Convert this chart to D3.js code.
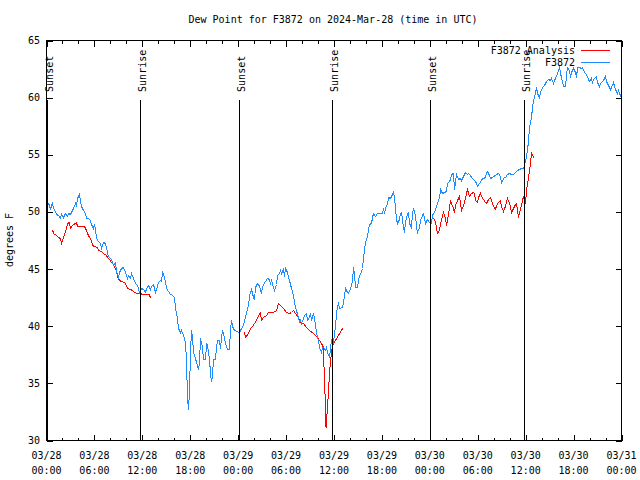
<!DOCTYPE html>
<html><head><meta charset="utf-8">
<script src="https://cdn.jsdelivr.net/npm/d3@7"></script>
<style>
body{margin:0;background:#fff}
svg text{font-family:"DejaVu Sans Mono","Liberation Mono",monospace;font-size:10px;fill:#000}
</style></head>
<body><svg id="chart" width="640" height="480"></svg>
<script>
const titleText = "Dew Point for F3872 on 2024-Mar-28 (time in UTC)";
const yLabel = "degrees F";
const seriesNames = ["F3872 Analysis", "F3872"];
const seriesColors = ["#ff0000", "#1e8cff"];
const yTicks = [30, 35, 40, 45, 50, 55, 60, 65];
const xLabelHours = [0, 6, 12, 18, 24, 30, 36, 42, 48, 54, 60, 66, 72];
const sunHours = [0.07, 11.77, 24.05, 35.81, 48.08, 59.73];
const sunLabels = ["Sunset", "Sunrise", "Sunset", "Sunrise", "Sunset", "Sunrise"];

// [hours since 2024-03-28 00:00 UTC, dew point °F]
const stationSeries = [
[0.1,50.9],[0.38,50.56],[0.5,50.2],[0.63,50.56],[0.75,50.74],[0.88,50.3],[1.13,50.04],[1.25,49.78],[1.5,49.69],[1.75,49.43],
[1.88,49.78],[2.13,49.5],[2.38,49.86],[2.63,49.6],[2.75,49.86],[3.0,49.78],[3.13,49.95],[3.38,50.3],[3.63,50.74],[3.76,50.56],
[3.88,51.18],[4.13,51.53],[4.26,51.0],[4.38,50.48],[4.63,50.13],[4.88,49.86],[5.01,49.43],[5.26,49.43],[5.51,49.25],[5.63,48.9],
[5.89,48.55],[6.01,48.9],[6.14,48.46],[6.26,47.68],[6.51,47.41],[6.76,47.24],[6.89,46.8],[7.14,47.33],[7.39,47.24],[7.64,46.45],
[7.76,46.1],[8.01,45.93],[8.26,45.66],[8.39,45.31],[8.64,45.58],[8.77,44.7],[9.02,44.26],[9.14,44.7],[9.39,45.05],[9.64,45.14],
[9.89,44.7],[10.14,44.18],[10.27,44.44],[10.52,44.18],[10.64,44.61],[10.89,44.18],[11.14,43.74],[11.4,43.56],[11.65,42.95],[11.9,43.3],
[12.15,43.21],[12.4,42.95],[12.52,43.3],[12.77,43.56],[13.02,43.21],[13.15,43.48],[13.4,43.65],[13.65,42.95],[13.77,43.21],[14.02,43.83],
[14.27,44.0],[14.4,43.91],[14.53,44.7],[14.65,44.53],[14.9,43.91],[15.03,43.3],[15.28,43.04],[15.53,42.78],[15.65,42.78],[16.03,42.51],
[16.15,41.55],[16.4,40.68],[16.53,39.8],[16.78,39.45],[16.9,39.63],[17.16,39.19],[17.41,38.58],[17.53,36.83],[17.66,33.68],[17.78,32.63],
[17.91,34.38],[18.03,37.7],[18.16,39.63],[18.28,39.01],[18.41,37.7],[18.66,37.18],[18.78,36.83],[19.03,36.21],[19.16,36.83],[19.28,38.93],
[19.53,38.14],[19.66,37.09],[19.91,37.09],[20.04,38.49],[20.16,38.31],[20.41,37.09],[20.54,35.86],[20.66,35.08],[20.79,35.7],[20.91,37.09],
[21.16,37.09],[21.29,38.14],[21.41,38.75],[21.66,38.75],[21.79,38.05],[21.91,39.01],[22.04,39.63],[22.29,39.01],[22.41,38.49],[22.66,37.96],
[22.92,37.96],[23.04,39.8],[23.17,40.5],[23.29,40.06],[23.42,39.71],[23.67,39.63],[24.04,39.45],[24.17,39.45],[24.42,39.8],[24.67,40.06],
[24.79,40.5],[25.04,41.11],[25.29,41.81],[25.42,42.6],[25.54,42.95],[25.67,43.21],[25.92,42.51],[26.05,42.34],[26.17,43.39],[26.42,43.74],
[26.55,43.65],[26.67,43.48],[26.92,42.86],[27.05,43.39],[27.17,43.65],[27.42,43.91],[27.67,44.18],[27.92,44.09],[28.05,43.65],[28.17,44.0],
[28.42,43.39],[28.55,43.13],[28.8,43.65],[28.93,44.44],[29.18,44.61],[29.3,44.88],[29.43,44.61],[29.68,44.96],[29.8,44.35],[29.93,45.05],
[30.18,44.7],[30.3,44.26],[30.43,44.0],[30.68,43.3],[30.93,42.69],[31.05,42.08],[31.3,41.38],[31.56,40.68],[31.68,40.33],[31.81,40.5],
[31.93,40.24],[32.18,40.68],[32.31,40.94],[32.56,41.11],[32.68,40.5],[32.93,40.76],[33.06,41.11],[33.18,40.5],[33.43,41.11],[33.56,40.68],
[33.81,39.45],[34.06,38.75],[34.18,38.14],[34.44,37.7],[34.56,38.14],[34.69,38.14],[34.94,37.88],[35.06,38.14],[35.19,37.7],[35.44,37.26],
[35.56,38.05],[35.69,38.75],[35.81,39.01],[35.94,38.49],[36.06,39.36],[36.19,39.89],[36.31,41.11],[36.44,41.73],[36.56,41.99],[36.69,41.55],
[37.07,41.64],[37.19,42.08],[37.32,42.69],[37.44,43.3],[37.69,42.95],[37.82,42.86],[38.07,43.3],[38.32,44.0],[38.44,45.14],[38.57,44.61],
[38.69,43.39],[38.94,43.39],[39.19,44.44],[39.32,44.53],[39.57,45.05],[39.69,45.93],[39.82,46.63],[39.94,47.33],[40.19,47.85],[40.32,48.38],
[40.45,48.9],[40.7,48.99],[40.82,49.51],[40.95,49.86],[41.2,49.6],[41.45,49.86],[41.7,49.86],[42.07,49.86],[42.2,50.3],[42.32,49.86],
[42.45,50.3],[42.7,50.74],[42.83,51.26],[43.08,51.18],[43.2,51.35],[43.45,51.7],[43.58,51.18],[43.7,50.39],[43.83,49.34],[43.95,48.99],
[44.2,49.34],[44.33,49.86],[44.45,49.95],[44.7,48.64],[44.83,48.2],[44.95,49.08],[45.2,49.86],[45.33,49.95],[45.45,48.99],[45.7,48.64],
[45.83,49.86],[45.96,50.3],[46.21,49.69],[46.33,48.64],[46.46,48.2],[46.71,48.64],[46.83,49.25],[47.08,49.69],[47.21,49.86],[47.46,48.99],
[47.71,49.34],[47.96,49.08],[48.21,48.99],[48.33,49.69],[48.58,49.95],[48.71,50.21],[48.96,50.74],[49.21,51.26],[49.34,51.96],[49.59,51.61],
[49.84,51.7],[50.09,51.79],[50.21,52.49],[50.46,52.66],[50.59,52.84],[50.71,53.28],[50.96,53.36],[51.09,51.88],[51.22,52.75],[51.34,53.28],
[51.59,52.84],[51.84,52.93],[51.97,52.75],[52.22,53.1],[52.34,53.28],[52.47,53.45],[52.72,53.28],[52.84,53.36],[53.09,53.19],[53.22,53.01],
[53.47,52.84],[53.72,52.66],[53.84,52.49],[53.97,52.23],[54.22,52.49],[54.35,52.58],[54.47,52.84],[54.72,52.93],[54.97,53.01],[55.1,53.45],
[55.22,53.54],[55.47,53.19],[55.6,52.93],[55.85,53.01],[55.97,53.1],[56.22,53.19],[56.35,53.28],[56.6,53.36],[56.85,53.1],[56.97,52.49],
[57.1,52.75],[57.35,53.01],[57.47,53.01],[57.73,53.28],[57.98,53.36],[58.23,53.28],[58.48,53.28],[58.73,53.45],[58.98,53.63],[59.23,53.71],
[59.48,53.8],[59.73,53.8],[59.85,54.06],[59.98,54.41],[60.23,55.38],[60.36,56.25],[60.48,57.39],[60.73,58.26],[60.86,59.14],[60.98,59.75],
[61.23,60.36],[61.36,60.89],[61.48,60.36],[61.73,60.01],[61.86,60.45],[62.11,60.89],[62.36,61.06],[62.61,61.41],[62.86,61.59],[63.11,61.5],
[63.24,61.68],[63.49,61.24],[63.61,61.5],[63.74,61.68],[63.99,62.11],[64.24,62.64],[64.36,62.2],[64.49,61.68],[64.74,60.98],[64.99,60.98],
[65.11,61.94],[65.24,62.64],[65.49,62.38],[65.62,61.76],[65.74,62.2],[65.99,62.55],[66.24,62.2],[66.37,61.76],[66.49,62.64],[66.74,62.64],
[66.99,62.55],[67.12,62.64],[67.37,62.2],[67.49,62.11],[67.74,61.85],[67.87,61.59],[67.99,61.41],[68.24,61.68],[68.37,61.33],[68.49,61.59],
[68.74,61.76],[68.87,61.85],[68.99,61.33],[69.24,60.98],[69.37,61.24],[69.5,61.33],[69.75,61.5],[69.99,61.85],[70.12,61.41],[70.25,61.24],
[70.5,60.89],[70.62,60.71],[70.75,60.89],[71.0,61.33],[71.12,60.98],[71.25,60.71],[71.5,60.36],[71.63,60.63],[71.75,60.36],[72.0,60.01]
];

// Analysis series; null marks gaps
const analysisSeries = [
[0.75,48.46],[0.88,48.11],[1.25,47.94],[1.5,47.76],[1.75,47.68],[1.88,47.24],[2.0,47.5],[2.25,48.03],[2.5,48.55],[2.63,48.99],
[2.88,49.08],[3.0,48.55],[3.26,48.81],[3.76,49.08],[3.88,48.73],[4.76,48.73],[5.01,48.38],[5.13,48.11],[5.38,47.76],[5.63,47.5],
[5.76,47.06],[6.01,46.98],[6.39,46.89],[6.51,46.63],[6.89,46.54],[7.14,46.36],[7.51,46.19],[7.64,46.01],[7.89,45.84],[8.14,45.58],
[8.39,45.4],[8.51,45.14],[8.77,44.88],[8.89,44.35],[9.14,44.0],[9.39,43.91],[9.77,43.83],[10.02,43.56],[10.14,43.3],[10.52,43.21],
[10.77,43.13],[11.02,42.95],[11.4,42.86],[11.77,42.95],[11.9,42.78],[12.4,42.78],[12.9,42.78],[13.02,42.43],
[18.0,null],
[24.79,39.45],[24.92,39.01],[25.29,39.36],[25.54,39.8],[25.8,39.98],[26.05,40.24],[26.42,40.68],[26.67,41.11],[26.8,41.2],[26.92,40.5],
[27.17,40.76],[27.55,40.94],[27.8,41.2],[28.42,41.2],[28.8,41.38],[29.05,41.99],[29.3,41.81],[29.68,41.55],[30.05,41.2],[30.43,41.11],
[30.68,41.2],[30.93,41.38],[31.18,41.11],[31.56,40.76],[31.81,40.33],[32.18,40.24],[32.56,39.89],[32.93,39.63],[33.43,39.36],[33.81,39.1],
[34.18,38.75],[34.44,38.49],[34.69,38.14],[34.81,34.64],[34.94,33.5],[35.0,31.14],[35.06,31.75],[35.19,32.89],[35.31,34.38],[35.44,35.86],
[35.56,37.0],[35.69,37.61],[35.81,38.31],[35.94,38.49],[36.19,38.75],[36.56,39.19],[37.07,39.8],
[42.0,null],
[48.46,49.51],[48.71,49.08],[48.84,48.55],[48.96,48.11],[49.21,48.38],[49.34,48.99],[49.46,49.25],[49.71,49.95],[49.96,49.43],[50.09,48.81],
[50.21,49.25],[50.46,50.3],[50.59,51.0],[50.71,50.74],[50.96,50.3],[51.09,49.95],[51.22,50.56],[51.47,51.0],[51.72,51.35],[51.84,50.74],
[51.97,50.13],[52.22,50.56],[52.47,51.18],[52.59,51.61],[52.72,51.96],[52.97,51.35],[53.22,51.61],[53.47,51.7],[53.59,51.61],[53.72,51.0],
[53.97,50.83],[54.1,51.26],[54.35,51.61],[54.47,51.35],[54.72,51.09],[54.97,50.83],[55.1,50.74],[55.35,51.09],[55.6,51.26],[55.72,51.0],
[55.97,50.48],[56.22,50.21],[56.35,50.56],[56.6,50.83],[56.85,51.0],[56.97,50.48],[57.22,50.04],[57.47,50.48],[57.6,50.91],[57.73,51.18],
[57.98,50.74],[58.1,50.39],[58.23,49.95],[58.48,50.3],[58.73,50.65],[58.85,50.74],[58.98,50.13],[59.1,49.51],[59.23,49.95],[59.48,50.56],
[59.61,51.09],[59.73,51.26],[59.85,51.0],[59.98,50.74],[60.11,51.88],[60.36,53.01],[60.61,54.24],[60.73,55.2],[60.98,54.76]
];

const W = 640, H = 480;
const m = {l: 46.5, r: 621.5, t: 40.5, b: 440.5};
const t0 = Date.UTC(2024, 2, 28);
const hr = h => new Date(t0 + h * 3600e3);
const x = d3.scaleUtc().domain([hr(0), hr(72)]).range([m.l, m.r]);
const y = d3.scaleLinear().domain([30, 65]).range([m.b, m.t]);
const svg = d3.select("#chart");
svg.append("rect").attr("width", W).attr("height", H).attr("fill", "#fff");

// ticks (inward, mirrored)
const g = svg.append("g").attr("stroke", "#000").attr("stroke-width", 1).attr("shape-rendering", "crispEdges");
for (let h = 0; h <= 72; h += 2) {
  const len = (h % 6 === 0) ? 6 : 3;
  const xx = Math.round(x(hr(h))) + 0.5;
  g.append("line").attr("x1", xx).attr("x2", xx).attr("y1", m.b).attr("y2", m.b - len);
  g.append("line").attr("x1", xx).attr("x2", xx).attr("y1", m.t).attr("y2", m.t + len);
}
yTicks.forEach(v => {
  const yy = Math.round(y(v)) + 0.5;
  g.append("line").attr("x1", m.l).attr("x2", m.l + 6).attr("y1", yy).attr("y2", yy);
  g.append("line").attr("x1", m.r).attr("x2", m.r - 6).attr("y1", yy).attr("y2", yy);
});

// tick labels
const fmtD = d3.utcFormat("%m/%d"), fmtT = d3.utcFormat("%H:%M");
xLabelHours.forEach(h => {
  const t = svg.append("text").attr("x", x(hr(h))).attr("text-anchor", "middle");
  t.append("tspan").attr("x", x(hr(h))).attr("y", 459).text(fmtD(hr(h)));
  t.append("tspan").attr("x", x(hr(h))).attr("y", 474).text(fmtT(hr(h)));
});
yTicks.forEach(v => {
  svg.append("text").attr("x", 40).attr("y", y(v) + 3.5).attr("text-anchor", "end").text(v);
});

// series (aliased 1px lines like the reference)
const line = d3.line().defined(d => d[1] !== null).x(d => x(hr(d[0]))).y(d => y(d[1]));
svg.append("path").datum(analysisSeries).attr("d", line).attr("fill", "none")
  .attr("stroke", seriesColors[0]).attr("stroke-width", 1).attr("shape-rendering", "crispEdges");
svg.append("path").datum(stationSeries).attr("d", line).attr("fill", "none")
  .attr("stroke", seriesColors[1]).attr("stroke-width", 1).attr("shape-rendering", "crispEdges");

// sunrise / sunset markers
sunHours.forEach((h, i) => {
  const xx = Math.round(x(hr(h))) + 0.5;
  svg.append("line").attr("x1", xx).attr("x2", xx).attr("y1", m.b).attr("y2", y(59.8))
    .attr("stroke", "#000").attr("stroke-width", 1).attr("shape-rendering", "crispEdges");
  svg.append("text").attr("transform", `translate(${xx + 5},${y(60.5)}) rotate(-90)`)
    .attr("text-anchor", "start").text(sunLabels[i]);
});

// frame
svg.append("rect").attr("x", m.l).attr("y", m.t).attr("width", m.r - m.l).attr("height", m.b - m.t)
  .attr("fill", "none").attr("stroke", "#000").attr("shape-rendering", "crispEdges");

// legend
seriesNames.forEach((n, i) => {
  const yy = 50 + i * 12;
  svg.append("text").attr("x", 575).attr("y", yy + 3.5).attr("text-anchor", "end").text(n);
  svg.append("line").attr("x1", 581).attr("x2", 610).attr("y1", yy + 0.5).attr("y2", yy + 0.5)
    .attr("stroke", seriesColors[i]).attr("stroke-width", 1).attr("shape-rendering", "crispEdges");
});

// title and y label
svg.append("text").attr("x", 333).attr("y", 23).attr("text-anchor", "middle").text(titleText);
svg.append("text").attr("transform", "translate(13,240) rotate(-90)").attr("text-anchor", "middle").text(yLabel);
</script></body></html>
